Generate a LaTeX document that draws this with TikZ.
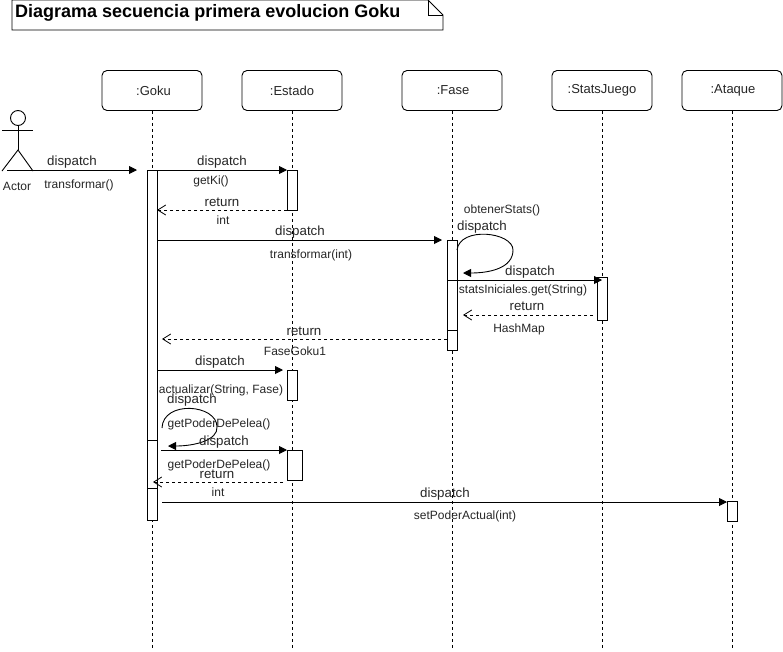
\documentclass[tikz,border=0pt]{standalone}
\usepackage{fontspec}
\setmainfont{Liberation Sans}
\usetikzlibrary{arrows.meta}
\tikzset{
  life/.style={draw,rounded corners=5pt,line width=0.9pt,fill=white,minimum width=100pt,minimum height=40pt,inner sep=0pt,font=\fontsize{13}{15}\selectfont,text=black!85},
  lifeline/.style={line width=0.9pt,dash pattern=on 3pt off 3pt},
  act/.style={draw,line width=0.9pt,fill=white,minimum width=10pt,inner sep=0pt,anchor=north},
  msg/.style={line width=0.9pt,-{Triangle[length=8pt,width=8pt]}},
  ret/.style={line width=0.9pt,dash pattern=on 3pt off 3pt,-{Straight Barb[length=8pt,width=10pt,line width=0.8pt]}},
  lab/.style={inner sep=0pt,text=black!85,font=\fontsize{13.3}{15}\selectfont,yshift=-1.5pt},
  small/.style={inner sep=0pt,text=black!85,font=\fontsize{12}{14}\selectfont,yshift=-1.5pt},
  limb/.style={line width=0.9pt}
}
\begin{document}
\begin{tikzpicture}[x=1pt,y=-1pt]
\useasboundingbox (0,0) rectangle (783,651);
% title note
\draw[line width=0.9pt,fill=white] (12,0) -- (428,0) -- (443,15) -- (443,30) -- (12,30) -- cycle;
\draw[line width=0.9pt] (428,0) -- (428,15) -- (443,15);
\node[anchor=west,inner sep=0pt,font=\fontsize{18}{20}\selectfont\bfseries] (title) at (15,12.5) {Diagrama secuencia primera evolucion Goku};
% lifeline heads
\node[life] (goku) at (152,90.5) {\hspace{3pt}:Goku};
\node[life] (estado) at (292,90.5) {:Estado};
\node[life] (fase) at (452,90.5) {\hspace{2pt}:Fase};
\node[life] (stats) at (602,90.5) {:StatsJuego};
\node[life] (ataque) at (732,90.5) {\hspace{2pt}:Ataque};
\coordinate (gokuEnd) at (152,648);
\coordinate (estadoEnd) at (292,648);
\coordinate (faseEnd) at (452,648);
\coordinate (statsEnd) at (602,648);
\coordinate (ataqueEnd) at (732,648);
\draw[lifeline] (goku) -- (gokuEnd);
\draw[lifeline] (estado) -- (estadoEnd);
\draw[lifeline] (fase) -- (faseEnd);
\draw[lifeline] (stats) -- (statsEnd);
\draw[lifeline] (ataque) -- (ataqueEnd);
% actor
\coordinate (hip) at (18,150);
\coordinate (armL) at (2,130);
\coordinate (armR) at (33,130);
\coordinate (legL) at (2,171);
\coordinate (legR) at (33,171);
\node[draw,circle,line width=0.9pt,minimum size=15pt,inner sep=0pt] (head) at (18,118) {};
\draw[limb] (head) -- (hip);
\draw[limb] (armL) -- (armR);
\draw[limb] (legL) -- (hip) -- (legR);
\node[small] (actorlab) at (17,184.5) {Actor};
% activations
\node[act,minimum height=270pt] (a1) at (152,170) {};
\node[act,minimum height=48pt] (a2) at (152,440) {};
\node[act,minimum height=32pt] (a3) at (152,488) {};
\node[act,minimum height=40pt] (e1) at (292,170) {};
\node[act,minimum height=90pt] (f1) at (452,240) {};
\node[act,minimum height=20pt] (f2) at (452,330) {};
\node[act,minimum height=43pt] (s1) at (602,277) {};
\node[act,minimum height=30pt] (e2) at (292,370) {};
\node[act,minimum height=30pt,minimum width=15pt] (e3) at (294.5,450) {};
\node[act,minimum height=20pt] (t1) at (732,501) {};
% message endpoints
\coordinate (m1a) at (7,170); \coordinate (m1b) at (137,170);
\coordinate (m2a) at (157,170); \coordinate (m2b) at (287,170);
\coordinate (m3a) at (287,210); \coordinate (m3b) at (157,210);
\coordinate (m4a) at (157,240); \coordinate (m4b) at (442,240);
\coordinate (l1a) at (457,250); \coordinate (l1b) at (463,273);
\coordinate (l1c) at (460,226); \coordinate (l1d) at (513,232);
\coordinate (l1e) at (513,268);
\coordinate (m5a) at (447,280); \coordinate (m5b) at (602,280);
\coordinate (m6a) at (593,315); \coordinate (m6b) at (463,315);
\coordinate (m7a) at (447,339); \coordinate (m7b) at (162,339);
\coordinate (m8a) at (157,370); \coordinate (m8b) at (283,370);
\coordinate (l2a) at (162,428); \coordinate (l2b) at (168,446);
\coordinate (l2c) at (163,400); \coordinate (l2d) at (217,404);
\coordinate (m9a) at (161,450); \coordinate (m9b) at (287,450);
\coordinate (m10a) at (283,482); \coordinate (m10b) at (153,482);
\coordinate (m11a) at (162,502); \coordinate (m11b) at (727,502);
\draw[msg] (m1a) -- (m1b);
\draw[msg] (m2a) -- (m2b);
\draw[ret] (m3a) -- (m3b);
\draw[msg] (m4a) -- (m4b);
\draw[msg] (l1a) .. controls (l1c) and (l1d) .. (513,250) .. controls (l1e) and (490,273) .. (l1b);
\draw[msg] (m5a) -- (m5b);
\draw[ret] (m6a) -- (m6b);
\draw[ret] (m7a) -- (m7b);
\draw[msg] (m8a) -- (m8b);
\draw[msg] (l2a) .. controls (l2c) and (l2d) .. (217,427) .. controls (218,440) and (195,446) .. (l2b);
\draw[msg] (m9a) -- (m9b);
\draw[ret] (m10a) -- (m10b);
\draw[msg] (m11a) -- (m11b);
% labels
\node[lab] (t01) at (72,161) {dispatch};
\node[small] (t02) at (79,184) {transformar()};
\node[lab] (t03) at (222,161) {dispatch};
\node[small] (t04) at (211,180) {getKi()};
\node[lab] (t05) at (222,201) {return};
\node[small] (t06) at (223,219) {int};
\node[lab] (t07) at (300,231) {dispatch};
\node[small] (t08) at (311,254) {transformar(int)};
\node[small] (t09) at (502,209) {obtenerStats()};
\node[lab] (t10) at (482,226) {dispatch};
\node[lab] (t11) at (530,271) {dispatch};
\node[small] (t12) at (523,289) {statsIniciales.get(String)};
\node[lab] (t13) at (527,305) {return};
\node[small] (t14) at (519,328) {HashMap};
\node[lab] (t15) at (304,330) {return};
\node[small] (t16) at (295,350) {FaseGoku1};
\node[lab] (t17) at (220,361) {dispatch};
\node[small] (t18) at (221,389) {actualizar(String, Fase)};
\node[lab] (t19) at (192,399) {dispatch};
\node[small] (t20) at (219,423) {getPoderDePelea()};
\node[lab] (t21) at (224,441) {dispatch};
\node[small] (t22) at (219,464) {getPoderDePelea()};
\node[lab] (t23) at (217,473) {return};
\node[small] (t24) at (218,491) {int};
\node[lab] (t25) at (445,493) {dispatch};
\node[small] (t26) at (465,515) {setPoderActual(int)};
\end{tikzpicture}
\end{document}
